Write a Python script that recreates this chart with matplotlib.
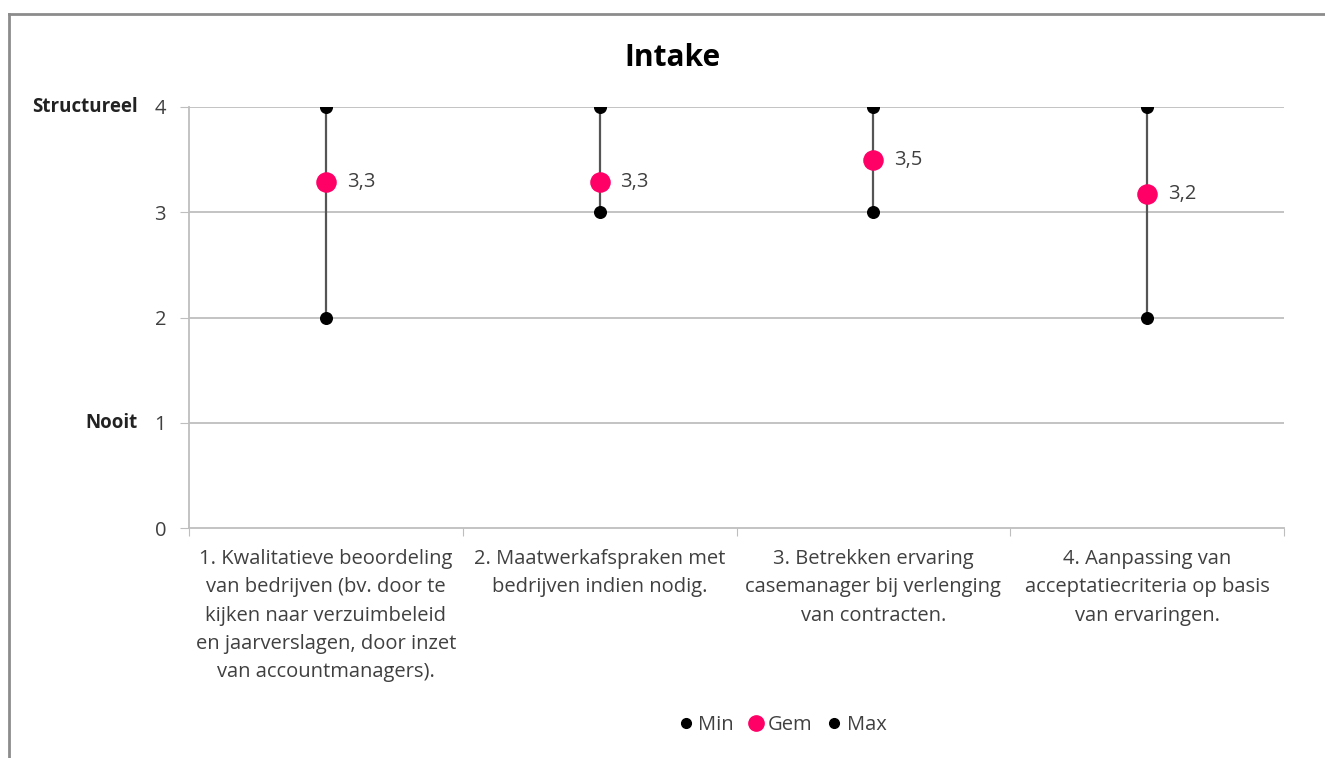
import matplotlib
matplotlib.use('Agg')
import matplotlib.pyplot as plt
from matplotlib.lines import Line2D

plt.rcParams['font.family'] = ['Open Sans', 'DejaVu Sans']

categories = [
    "1. Kwalitatieve beoordeling\nvan bedrijven (bv. door te\nkijken naar verzuimbeleid\nen jaarverslagen, door inzet\nvan accountmanagers).",
    "2. Maatwerkafspraken met\nbedrijven indien nodig.",
    "3. Betrekken ervaring\ncasemanager bij verlenging\nvan contracten.",
    "4. Aanpassing van\nacceptatiecriteria op basis\nvan ervaringen.",
]
min_vals = [2, 3, 3, 2]
gem_vals = [3.29, 3.29, 3.5, 3.17]
max_vals = [4, 4, 4, 4]
y_ticks = [0, 1, 2, 3, 4]
y_names = {1: "Nooit", 4: "Structureel"}

text_col = '#404040'
pink = '#FF0066'
fs = 14.5

fig = plt.figure(figsize=(13.25, 7.58), dpi=100)
ax = fig.add_axes([189 / 1325, 1 - 528 / 758, 1095 / 1325, 421 / 758])

x = list(range(len(categories)))

# grid
for yv in y_ticks[1:]:
    ax.axhline(yv, color='#BEBEBE', lw=1.3, zorder=0)

ax.vlines(x, min_vals, max_vals, color='#555555', lw=1.6, zorder=1)
ax.scatter(x, min_vals, s=70, color='black', zorder=3, label='Min')
ax.scatter(x, gem_vals, s=190, color=pink, zorder=4, label='Gem')
ax.scatter(x, max_vals, s=70, color='black', zorder=3, label='Max')

for xi, g in zip(x, gem_vals):
    ax.annotate(f"{g:.1f}".replace('.', ','), (xi, g), xytext=(15, 0),
                textcoords='offset points', va='center', ha='left',
                fontsize=fs, color=text_col)

ax.set_xlim(-0.5, len(categories) - 0.5)
ax.set_ylim(0, 4)
ax.set_yticks(y_ticks)
ax.set_yticklabels([str(v) for v in y_ticks], fontsize=fs, color=text_col)
ax.tick_params(axis='y', length=6.5, color='#BEBEBE', pad=10)

ax.set_xticks([i - 0.5 for i in range(len(categories) + 1)])
ax.set_xticklabels([])
ax.set_xticks(x, minor=True)
ax.set_xticklabels(categories, minor=True, fontsize=fs, color=text_col,
                   linespacing=1.56, va='top')
ax.tick_params(axis='x', which='major', length=6, color='#BEBEBE')
ax.tick_params(axis='x', which='minor', length=0, pad=15)

for side in ['top', 'right']:
    ax.spines[side].set_visible(False)
for side in ['left', 'bottom']:
    ax.spines[side].set_color('#BEBEBE')
    ax.spines[side].set_linewidth(1.3)

for yv, name in y_names.items():
    ax.annotate(name, (0, yv), xycoords=('axes fraction', 'data'),
                xytext=(-37, 0), textcoords='offset points', ha='right',
                va='center', fontsize=13.5, fontweight='bold', color='#222222')

fig.text(672 / 1325, 1 - 58 / 758, "Intake", ha='center', va='center',
         fontsize=21.5, fontweight='bold', color='black')

handles = [
    Line2D([], [], marker='o', ls='', color='black', markersize=7, label='Min'),
    Line2D([], [], marker='o', ls='', color=pink, markersize=11, label='Gem'),
    Line2D([], [], marker='o', ls='', color='black', markersize=7, label='Max'),
]
fig.legend(handles=handles, loc='center', bbox_to_anchor=(782 / 1325, 1 - 725 / 758),
           ncol=3, frameon=False, fontsize=fs, handletextpad=0.2, handlelength=0.8,
           columnspacing=0.7, labelcolor=text_col)

# outer frame of the chart
fig.add_artist(Line2D([9 / 1325, 9 / 1325], [0, 1 - 14 / 758], transform=fig.transFigure,
                      color='#8C8C8C', lw=2))
fig.add_artist(Line2D([9 / 1325, 1], [1 - 14 / 758, 1 - 14 / 758], transform=fig.transFigure,
                      color='#8C8C8C', lw=2))

fig.savefig('out.png', dpi=100)
